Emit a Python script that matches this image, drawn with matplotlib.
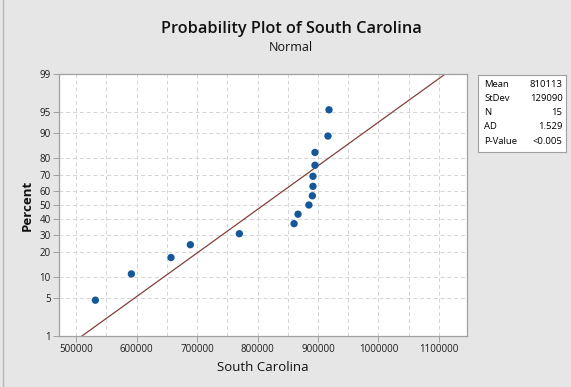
import numpy as np
import matplotlib
matplotlib.use("Agg")
import matplotlib.pyplot as plt
from matplotlib.lines import Line2D
from statistics import NormalDist

plt.rcParams['font.family'] = ['Open Sans', 'DejaVu Sans']

values = [532000, 591500, 657000, 689000, 770000, 860500, 867000, 885000,
          890700, 891700, 891700, 895000, 895000, 916500, 918200]
mean_val = 810113
std_val = 129090
y_ticks = [1, 5, 10, 20, 30, 40, 50, 60, 70, 80, 90, 95, 99]
x_ticks = [500000, 600000, 700000, 800000, 900000, 1000000, 1100000]
stat_labels = ["Mean", "StDev", "N", "AD", "P-Value"]
stat_values = ["810113", "129090", "15", "1.529", "<0.005"]

nd = NormalDist()
_ppf = np.vectorize(lambda v: nd.inv_cdf(v / 100.0), otypes=[float])
_cdf = np.vectorize(lambda v: nd.cdf(v) * 100.0, otypes=[float])

def fwd(p):
    p = np.clip(np.asarray(p, dtype=float), 1e-6, 100 - 1e-6)
    return _ppf(p)

def inv(z):
    return _cdf(np.asarray(z, dtype=float))

n = len(values)
xs = np.sort(values)
ranks = np.arange(1, n + 1)
pct = (ranks - 0.3) / (n + 0.4) * 100

fig = plt.figure(figsize=(5.71, 3.87), dpi=100)
fig.patch.set_facecolor('#e6e6e6')
ax = fig.add_axes([0.1035, 0.1318, 0.714, 0.677])
ax.set_facecolor('white')
ax.set_yscale('function', functions=(fwd, inv))
ax.set_ylim(1, 99)
ax.set_xlim(472000, 1146000)

# fitted line
line_p = np.linspace(1, 99, 200)
line_x = [mean_val + std_val * nd.inv_cdf(p / 100) for p in line_p]
ax.plot(line_x, line_p, color='#84403a', lw=0.9, zorder=2)

ax.scatter(xs, pct, s=28, color='#14589a', zorder=3, edgecolors='none')

ax.set_yticks(y_ticks)
ax.set_yticklabels([str(t) for t in y_ticks])
ax.set_xticks(x_ticks)
ax.set_xticklabels([str(t) for t in x_ticks])
ax.minorticks_off()
ax.set_xticks([550000, 650000, 750000, 850000, 950000, 1050000], minor=True)
ax.grid(True, which='both', color='#d4d4d4', ls=(0, (4, 3)), lw=0.7)
ax.tick_params(axis='y', which='minor', left=False)
ax.tick_params(axis='x', which='minor', length=0)
ax.tick_params(axis='both', which='major', length=4, width=0.7, color='#a0a0a0',
               labelsize=7, pad=2, labelcolor='#1a1a1a')
for s in ax.spines.values():
    s.set_color('#a0a0a0')
    s.set_linewidth(0.9)

ax.set_xlabel('South Carolina', fontsize=9.5, labelpad=4, color='#111111')
ax.set_ylabel('Percent', fontsize=9.5, fontweight='bold', labelpad=4, color='#111111')

fig.text(0.51, 0.925, 'Probability Plot of South Carolina', ha='center', va='center',
         fontsize=11.7, fontweight='semibold', color='#111111')
fig.text(0.51, 0.877, 'Normal', ha='center', va='center', fontsize=9, color='#111111')

# stats box
bx = fig.add_axes([478 / 571, 1 - 152 / 387, 88 / 571, 77 / 387])
bx.set_facecolor('white')
bx.set_xticks([]); bx.set_yticks([])
for s in bx.spines.values():
    s.set_color('#a0a0a0'); s.set_linewidth(0.8)
for i, (lab, val) in enumerate(zip(stat_labels, stat_values)):
    yy = 0.88 - i * 0.185
    bx.text(0.07, yy, lab, fontsize=6.8, va='center', ha='left', transform=bx.transAxes)
    bx.text(0.96, yy, val, fontsize=6.8, va='center', ha='right', transform=bx.transAxes)

fig.add_artist(Line2D([3 / 571, 3 / 571], [0, 1], color='#b8b8b8', lw=1.0))

fig.savefig('out.png', dpi=100, facecolor=fig.get_facecolor())
